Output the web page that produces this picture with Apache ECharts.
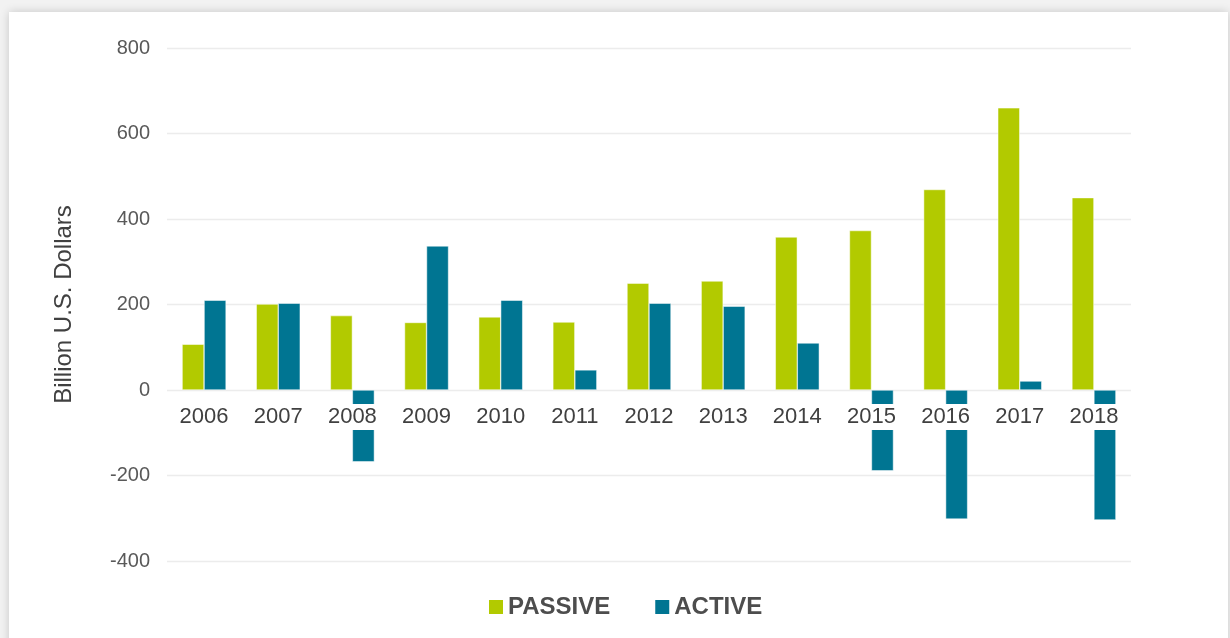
<!DOCTYPE html>
<html>
<head>
<meta charset="utf-8">
<script src="https://cdn.jsdelivr.net/npm/echarts@6/dist/echarts.min.js"></script>
<style>
  html, body { margin: 0; padding: 0; width: 1230px; height: 638px; overflow: hidden; background: #f2f2f2; }
  #card { position: absolute; left: 9px; top: 12px; width: 1219px; height: 640px; background: #fff;
          box-shadow: 0 0 9px rgba(0,0,0,0.18); }
  #chart { position: absolute; left: 0; top: 0; width: 1230px; height: 638px; }
</style>
</head>
<body>
<div id="card"></div>
<div id="chart"></div>
<script>
const categories = ['2006','2007','2008','2009','2010','2011','2012','2013','2014','2015','2016','2017','2018'];
const passive = [107, 201, 174, 158, 171, 159, 250, 255, 358, 373, 469, 660, 450];
const active  = [210, 203, -168, 337, 210, 47, 203, 196, 110, -189, -302, 21, -304];
const seriesNames = ['PASSIVE', 'ACTIVE'];
const yTicks = { min: -400, max: 800, interval: 200 };

const chart = echarts.init(document.getElementById('chart'), null, { renderer: 'canvas' });
const font = 'Arial, "Liberation Sans", sans-serif';
const gridTop = 48, gridBottomPx = 561;
// pixel offset of the zero line from the grid bottom, derived from the value scale
const zeroOffset = (gridBottomPx - gridTop) * (0 - yTicks.min) / (yTicks.max - yTicks.min);
chart.setOption({
  backgroundColor: 'transparent',
  animation: false,
  textStyle: { fontFamily: font },
  grid: { left: 167, right: 99, top: gridTop, bottom: 638 - gridBottomPx, containLabel: false },
  legend: {
    bottom: 14,
    left: 484,
    itemWidth: 14, itemHeight: 14, itemGap: 45,
    icon: 'rect',
    itemStyle: { borderWidth: 0 },
    textStyle: { fontSize: 24, fontWeight: 'bold', color: '#4d4d4d', fontFamily: font },
    data: seriesNames
  },
  xAxis: {
    type: 'category',
    data: categories,
    z: 10,
    offset: -zeroOffset,
    axisLine: { show: false, onZero: false },
    axisTick: { show: false },
    axisLabel: {
      fontSize: 22, color: '#404040', margin: 14,
      backgroundColor: '#fff', padding: [2, 1], lineHeight: 22
    }
  },
  yAxis: {
    type: 'value',
    min: yTicks.min, max: yTicks.max, interval: yTicks.interval,
    name: 'Billion U.S. Dollars',
    nameLocation: 'middle',
    nameGap: 91,
    nameRotate: 90,
    nameTextStyle: { fontSize: 24, color: '#404040' },
    axisLabel: { fontSize: 20, color: '#595959', margin: 17 },
    axisLine: { show: false },
    axisTick: { show: false },
    splitLine: { lineStyle: { color: '#ececec', width: 1.3 } }
  },
  series: [
    { name: seriesNames[0], type: 'bar', data: passive, barWidth: 22, barGap: '0%',
      itemStyle: { color: '#b2ca00', borderColor: '#fff', borderWidth: 0.5 } },
    { name: seriesNames[1], type: 'bar', data: active, barWidth: 22, barGap: '0%',
      itemStyle: { color: '#007592', borderColor: '#fff', borderWidth: 0.5 } }
  ]
});
</script>
</body>
</html>
